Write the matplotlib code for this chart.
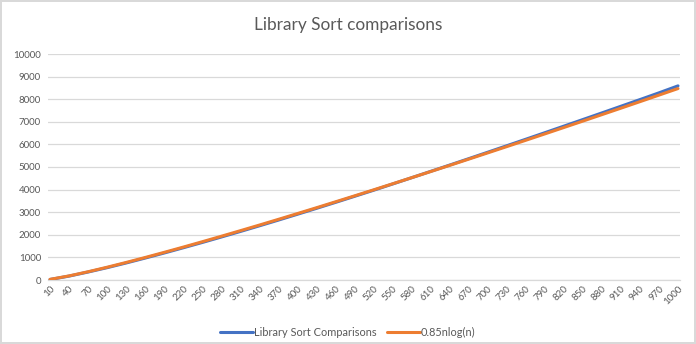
import matplotlib
matplotlib.use("Agg")
import matplotlib.pyplot as plt

plt.rcParams['font.family'] = ['Lato', 'DejaVu Sans']

n_values = [10, 40, 70, 100, 130, 160, 190, 220, 250, 280, 310, 340, 370, 400,
            430, 460, 490, 520, 550, 580, 610, 640, 670, 700, 730, 760, 790, 820,
            850, 880, 910, 940, 970, 1000]

library_sort = [23, 172, 353, 545, 753, 970, 1194, 1425, 1660, 1901, 2146, 2396,
                2650, 2908, 3169, 3433, 3701, 3970, 4247, 4525, 4805, 5085, 5368,
                5653, 5940, 6228, 6517, 6808, 7100, 7393, 7688, 7983, 8282, 8590]

nlogn_085 = [28, 181, 365, 565, 776, 996, 1223, 1455, 1693, 1935, 2181, 2430,
             2683, 2939, 3197, 3459, 3722, 3988, 4256, 4526, 4798, 5071, 5347,
             5624, 5902, 6182, 6464, 6747, 7031, 7317, 7603, 7891, 8181, 8471]

y_ticks = [0, 1000, 2000, 3000, 4000, 5000, 6000, 7000, 8000, 9000, 10000]

title = "Library Sort comparisons"
labels = ["Library Sort Comparisons", "0.85nlog(n)"]

fig = plt.figure(figsize=(6.96, 3.44), dpi=100)
fig.patch.set_facecolor('white')
fig.patch.set_edgecolor('#d9d9d9')
fig.patch.set_linewidth(1.5)

ax = fig.add_axes([48/696, 1-280/344, (680-48)/696, (280-54)/344])
ax.plot(n_values, library_sort, color='#4472C4', lw=2.2, label=labels[0],
        solid_capstyle='round', zorder=3)
ax.plot(n_values, nlogn_085, color='#ED7D31', lw=2.2, label=labels[1],
        solid_capstyle='round', zorder=4)

px = 990/628
ax.set_xlim(10 - 2*px, 1000 + 2*px)
ax.set_ylim(0, 10000)
ax.set_yticks(y_ticks)
ax.set_xticks(n_values)
ax.set_xticklabels([str(v) for v in n_values], rotation=45, ha='right',
                   rotation_mode='anchor')
ax.tick_params(axis='both', length=0, labelsize=7, colors='#595959')
ax.tick_params(axis='x', pad=3)
ax.tick_params(axis='y', pad=5)
ax.grid(axis='y', color='#d9d9d9', lw=0.9)
ax.set_axisbelow(True)
for s in ['top', 'right', 'left']:
    ax.spines[s].set_visible(False)
ax.spines['bottom'].set_color('#d9d9d9')
ax.spines['bottom'].set_linewidth(0.9)

fig.text(0.5, 1-25/344, title, ha='center', va='center', fontsize=12.4,
         color='#595959')

fig.legend(loc='center', bbox_to_anchor=(0.5, 1-332/344), ncol=2, frameon=False,
           fontsize=7.9, handlelength=3.0, handletextpad=0.1, columnspacing=0.9,
           labelcolor='#595959')

fig.savefig('out.png', dpi=100)
